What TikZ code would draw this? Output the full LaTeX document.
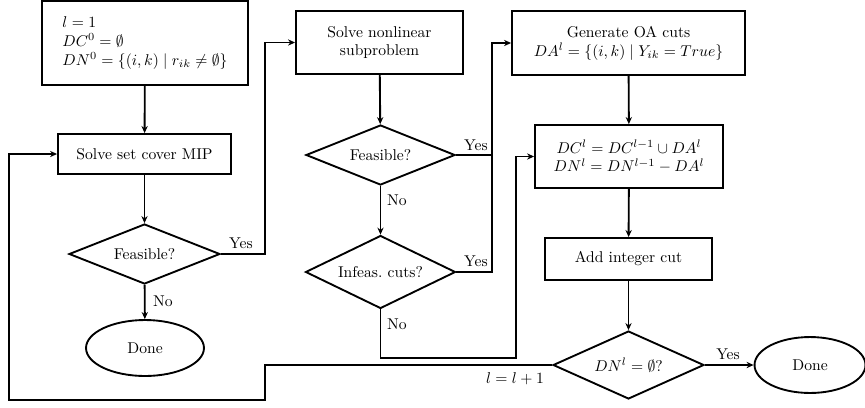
\documentclass[tikz,border=0pt]{standalone}
\usetikzlibrary{shapes.geometric,arrows.meta}
\begin{document}
\begin{tikzpicture}[x=0.64pt,y=-0.64pt,
  line width=1.2pt,
  procbox/.style={draw,rectangle,align=center,inner sep=2pt},
  decide/.style={draw,diamond,aspect=2.5,inner sep=0pt},
  term/.style={draw,ellipse,inner sep=0pt},
  arr/.style={-{Stealth[length=4.5pt,width=4pt]}},
  lbl/.style={inner sep=0pt}]
\useasboundingbox (0,0) rectangle (865,407);

% left column
\node[procbox,minimum width=131.8pt,minimum height=53.8pt,align=left] (init) at (145,43)
  {$l=1$\\ $DC^0=\emptyset$\\ $DN^0=\{(i,k)\mid r_{ik}\neq\emptyset\}$};
\node[procbox,minimum width=110.7pt,minimum height=25.6pt] (mip) at (144.5,154) {Solve set cover MIP};
\node[decide,minimum width=96.6pt,minimum height=38.4pt] (f1) at (144.5,254) {Feasible?};
\node[term,minimum width=75.5pt,minimum height=35.8pt] (done1) at (145,348) {Done};

% middle column
\node[procbox,minimum width=106.9pt,minimum height=40.3pt] (nlp) at (379.5,42.5) {Solve nonlinear\\subproblem};
\node[decide,minimum width=95.4pt,minimum height=38.4pt] (f2) at (380.5,155) {Feasible?};
\node[decide,minimum width=96pt,minimum height=46.7pt] (inf) at (380.5,272) {Infeas.\ cuts?};

% right column
\node[procbox,minimum width=149.1pt,minimum height=41pt] (oa) at (628.5,43)
  {Generate OA cuts\\ $DA^l=\{(i,k)\mid Y_{ik}=True\}$};
\node[procbox,minimum width=120.3pt,minimum height=40.3pt] (dc) at (629,156.5)
  {$DC^l=DC^{l-1}\cup DA^l$\\ $DN^l=DN^{l-1}-DA^l$};
\node[procbox,minimum width=106.9pt,minimum height=26.9pt] (icut) at (628.5,259) {Add integer cut};
\node[decide,minimum width=96.6pt,minimum height=43.5pt] (dn) at (628.5,365) {$DN^l=\emptyset$?};
\node[term,minimum width=71pt,minimum height=35.8pt] (done2) at (810,365) {Done};

% routing points
\coordinate (ya) at (265,254);
\coordinate (yb) at (492,272);
\coordinate (nb) at (516,358);
\coordinate (lpa) at (265,400);
\coordinate (lpb) at (9,400);

% connectors
\draw[arr] (init) -- (mip);
\draw[arr] (mip) -- (f1);
\draw[arr] (f1) -- (done1);
\draw[arr] (f1.east) -- (ya) |- (nlp.west);
\draw[arr] (nlp) -- (f2);
\draw[arr] (f2) -- (inf);
\draw[arr] (f2.east) -- (f2.east -| yb) |- (oa.west);
\draw (inf.east) -- (yb) -- (yb |- f2.east);
\draw[arr] (inf.south) |- (nb) |- (dc.west);
\draw[arr] (oa) -- (dc);
\draw[arr] (dc) -- (icut);
\draw[arr] (icut) -- (dn);
\draw[arr] (dn) -- (done2);
\draw[arr] (dn.west) -| (lpa) -- (lpb) |- (mip.west);

% branch labels
\node[lbl] (y1) at (241,243) {Yes};
\node[lbl] (n1) at (163,301) {No};
\node[lbl] (y2) at (476,145) {Yes};
\node[lbl] (n2) at (397,200) {No};
\node[lbl] (y3) at (476,261) {Yes};
\node[lbl] (n3) at (397,324) {No};
\node[lbl] (y4) at (728,354) {Yes};
\node[lbl] (inc) at (515,379) {$l=l+1$};
\end{tikzpicture}
\end{document}
